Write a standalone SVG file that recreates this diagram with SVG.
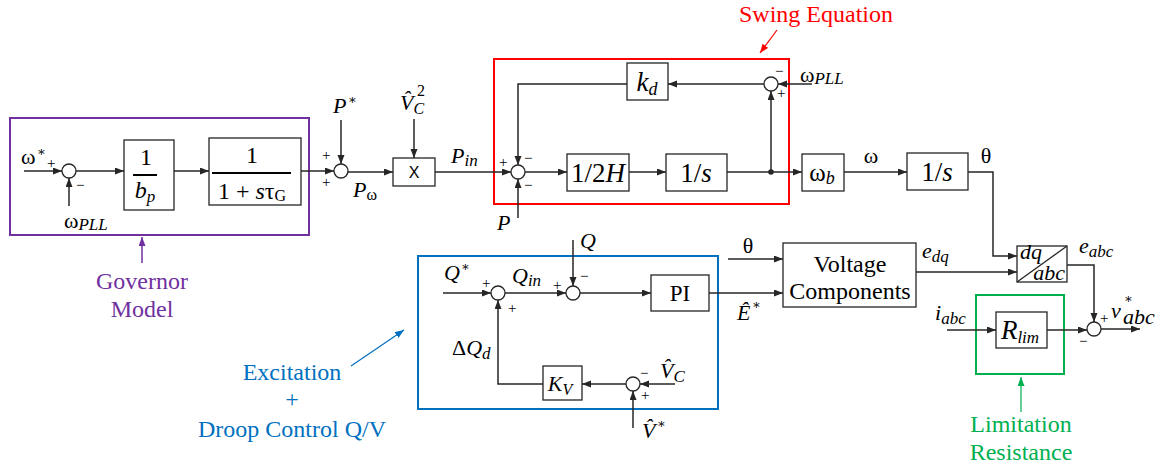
<svg xmlns="http://www.w3.org/2000/svg" width="1156" height="470" viewBox="0 0 1156 470">
<style>
.bg{fill:#fff}
.blk{fill:#fff;stroke:#262626;stroke-width:1.3}
.sum{fill:#fff;stroke:#262626;stroke-width:1.3}
.ln{fill:none;stroke:#262626;stroke-width:1.5}
.lna{fill:none;stroke:#262626;stroke-width:1.5;marker-end:url(#ah)}
.t{font-family:"Liberation Serif","Times New Roman",serif;fill:#000}
.m{font-family:"Liberation Serif","Times New Roman",serif;font-style:italic;fill:#000;font-size:22px}
.up{font-style:normal}
.st{font-family:"DejaVu Serif",serif;font-style:normal;fill:#000}
.sg{font-family:"Liberation Serif",serif;font-size:15px;fill:#000}
.bt{font-family:"Liberation Serif",serif;font-size:27px;fill:#000}
.lbl{font-family:"Liberation Serif","Times New Roman",serif;font-size:24px}
</style>
<defs>
<marker id="ah" markerUnits="userSpaceOnUse" markerWidth="10" markerHeight="8" refX="9" refY="3.5" orient="auto"><path d="M0,0 L9,3.5 L0,7 z" fill="#262626"/></marker>
<marker id="ahr" markerUnits="userSpaceOnUse" markerWidth="10" markerHeight="8" refX="9" refY="3.5" orient="auto"><path d="M0,0 L9,3.5 L0,7 z" fill="#FF0000"/></marker>
<marker id="ahp" markerUnits="userSpaceOnUse" markerWidth="10" markerHeight="8" refX="9" refY="3.5" orient="auto"><path d="M0,0 L9,3.5 L0,7 z" fill="#7030A0"/></marker>
<marker id="ahb" markerUnits="userSpaceOnUse" markerWidth="10" markerHeight="8" refX="9" refY="3.5" orient="auto"><path d="M0,0 L9,3.5 L0,7 z" fill="#0070C0"/></marker>
<marker id="ahg" markerUnits="userSpaceOnUse" markerWidth="10" markerHeight="8" refX="9" refY="3.5" orient="auto"><path d="M0,0 L9,3.5 L0,7 z" fill="#00B050"/></marker>
</defs>
<rect class="bg" x="0" y="0" width="1156" height="470"/>

<g id="governor-region">
<rect x="10" y="118" width="299" height="117" fill="none" stroke="#7030A0" stroke-width="2"/>
<text class="lbl" x="142" y="289" text-anchor="middle" fill="#7030A0">Governor</text>
<text class="lbl" x="142" y="317" text-anchor="middle" fill="#7030A0">Model</text>
</g>
<g id="swing-region">
<rect x="494" y="59" width="295" height="145" fill="none" stroke="#FF0000" stroke-width="2"/>
<text class="lbl" x="816" y="22" text-anchor="middle" fill="#FF0000">Swing Equation</text>
</g>
<g id="excitation-region">
<rect x="418" y="256" width="300" height="153" fill="none" stroke="#0070C0" stroke-width="2"/>
<text class="lbl" x="292" y="380" text-anchor="middle" fill="#0070C0">Excitation</text>
<text class="lbl" x="292" y="407" text-anchor="middle" fill="#0070C0">+</text>
<text class="lbl" x="292" y="437" text-anchor="middle" fill="#0070C0">Droop Control Q/V</text>
</g>
<g id="limitation-region">
<rect x="976" y="295" width="88" height="79" fill="none" stroke="#00B050" stroke-width="2"/>
<text class="lbl" x="1021" y="432" text-anchor="middle" fill="#00B050">Limitation</text>
<text class="lbl" x="1021" y="460" text-anchor="middle" fill="#00B050">Resistance</text>
</g>

<g id="connectors">
<line class="lna" x1="24" y1="171" x2="62" y2="171"/>
<line class="lna" x1="69" y1="206" x2="69" y2="178"/>
<line class="lna" x1="76" y1="171" x2="124" y2="171"/>
<line class="lna" x1="174" y1="171" x2="209" y2="171"/>
<line class="lna" x1="301" y1="171" x2="334" y2="171"/>
<line class="lna" x1="341" y1="120" x2="341" y2="164"/>
<line class="lna" x1="348" y1="172" x2="393" y2="172"/>
<line class="lna" x1="414" y1="119" x2="414" y2="158"/>
<line class="lna" x1="435" y1="172" x2="511" y2="172"/>
<line class="lna" x1="518" y1="218" x2="518" y2="179"/>
<polyline class="lna" points="627,84 518,84 518,165"/>
<line class="lna" x1="764" y1="84" x2="668" y2="84"/>
<line class="lna" x1="812" y1="84" x2="778" y2="84"/>
<line class="lna" x1="771" y1="172" x2="771" y2="91"/>
<line class="lna" x1="525" y1="172" x2="567" y2="172"/>
<line class="lna" x1="629" y1="172" x2="666" y2="172"/>
<line class="lna" x1="727" y1="172" x2="802" y2="172"/>
<circle cx="771" cy="172" r="2.8" fill="#262626"/>
<line class="lna" x1="844" y1="172" x2="907" y2="172"/>
<polyline class="lna" points="968,172 993,172 993,256 1017,256"/>
<line class="lna" x1="916" y1="272" x2="1017" y2="272"/>
<polyline class="lna" points="1067,265 1094,265 1094,322"/>
<line class="lna" x1="1101" y1="329" x2="1140" y2="329"/>
<line class="lna" x1="947" y1="330" x2="996" y2="330"/>
<line class="lna" x1="1047" y1="330" x2="1087" y2="330"/>
<line class="lna" x1="728" y1="259" x2="783" y2="259"/>
<line class="lna" x1="709" y1="293" x2="783" y2="293"/>
<line class="lna" x1="443" y1="293" x2="491" y2="293"/>
<line class="lna" x1="505" y1="293" x2="566" y2="293"/>
<line class="lna" x1="573" y1="240" x2="573" y2="286"/>
<line class="lna" x1="580" y1="293" x2="651" y2="293"/>
<line class="lna" x1="626" y1="384" x2="582" y2="384"/>
<polyline class="lna" points="543,384 498,384 498,300"/>
<line class="lna" x1="675" y1="384" x2="640" y2="384"/>
<line class="lna" x1="633" y1="428" x2="633" y2="391"/>
<line x1="777" y1="30" x2="760" y2="53" stroke="#FF0000" stroke-width="1.2" marker-end="url(#ahr)"/>
<line x1="142" y1="263" x2="142" y2="237" stroke="#7030A0" stroke-width="1.5" marker-end="url(#ahp)"/>
<line x1="351" y1="366" x2="404" y2="330" stroke="#0070C0" stroke-width="1.2" marker-end="url(#ahb)"/>
<line x1="1021" y1="412" x2="1021" y2="377" stroke="#00B050" stroke-width="1.2" marker-end="url(#ahg)"/>
</g>

<g id="sum-omega">
<circle class="sum" cx="69" cy="171" r="7"/>
<text class="t" x="21" y="164" font-size="22">ω</text>
<text class="st" x="37" y="156" font-size="13">∗</text>
<text class="sg" x="47" y="168">+</text>
<text class="sg" x="76" y="190">−</text>
<text class="t" x="64" y="228" font-size="22">ω<tspan font-style="italic" font-size="17" dy="2">PLL</tspan></text>
</g>
<g id="block-bp">
<rect class="blk" x="124" y="140" width="50" height="70"/>
<text class="t" x="146" y="165" font-size="24" text-anchor="middle">1</text>
<line x1="133" y1="175" x2="157" y2="175" stroke="#000" stroke-width="2"/>
<text class="t" x="145" y="198" font-size="24" text-anchor="middle" font-style="italic">b<tspan font-size="17" dy="4">p</tspan></text>
</g>
<g id="block-tau">
<rect class="blk" x="209" y="138" width="92" height="67"/>
<text class="t" x="252" y="163" font-size="24" text-anchor="middle">1</text>
<line x1="212" y1="173" x2="291" y2="173" stroke="#000" stroke-width="2"/>
<text class="t" x="252" y="199" font-size="24" text-anchor="middle">1 + <tspan font-style="italic">s</tspan>τ<tspan font-size="16" dy="2">G</tspan></text>
</g>
<g id="sum-p">
<circle class="sum" cx="341" cy="171" r="7"/>
<text class="m" x="333" y="113">P</text>
<text class="st" x="348" y="104" font-size="13">∗</text>
<text class="sg" x="322" y="160">+</text>
<text class="sg" x="322" y="187">+</text>
<text class="m" x="353" y="197">P<tspan font-size="16" dy="3" class="up">ω</tspan></text>
</g>
<g id="block-mult">
<rect class="blk" x="393" y="158" width="42" height="28"/>
<text x="414" y="178" font-family="Liberation Sans, Arial, sans-serif" font-size="16" text-anchor="middle">X</text>
<text class="m" x="400" y="110">V̂<tspan font-size="16" dy="4">C</tspan></text>
<text class="t" x="417" y="96" font-size="16">2</text>
<text class="m" x="451" y="163">P<tspan font-size="17" dy="3">in</tspan></text>
</g>

<g id="sum-swing">
<circle class="sum" cx="518" cy="172" r="7"/>
<text class="sg" x="499" y="167">+</text>
<text class="sg" x="524" y="163">−</text>
<text class="sg" x="524" y="190">−</text>
<text class="m" x="497" y="230">P</text>
</g>
<g id="block-kd">
<rect class="blk" x="627" y="63" width="41" height="37"/>
<text class="bt" x="647" y="91" text-anchor="middle" font-style="italic">k<tspan font-size="18" dy="4">d</tspan></text>
</g>
<g id="sum-pll">
<circle class="sum" cx="771" cy="84" r="7"/>
<text class="sg" x="775" y="76">−</text>
<text class="sg" x="777" y="98">+</text>
<text class="t" x="800" y="82" font-size="22">ω<tspan font-style="italic" font-size="17" dy="2">PLL</tspan></text>
</g>
<g id="block-2h">
<rect class="blk" x="567" y="154" width="62" height="37"/>
<text class="bt" x="598" y="182" text-anchor="middle">1/2<tspan font-style="italic">H</tspan></text>
</g>
<g id="block-int1">
<rect class="blk" x="666" y="154" width="61" height="37"/>
<text class="bt" x="696" y="182" text-anchor="middle">1/<tspan font-style="italic">s</tspan></text>
</g>
<g id="block-wb">
<rect class="blk" x="802" y="154" width="42" height="37"/>
<text class="t" x="822" y="181" font-size="25" text-anchor="middle">ω<tspan font-style="italic" font-size="18" dy="3">b</tspan></text>
<text class="t" x="871" y="163" font-size="22" text-anchor="middle">ω</text>
</g>
<g id="block-int2">
<rect class="blk" x="907" y="153" width="61" height="37"/>
<text class="bt" x="937" y="181" text-anchor="middle">1/<tspan font-style="italic">s</tspan></text>
<text class="t" x="986" y="163" font-size="22" text-anchor="middle">θ</text>
</g>
<g id="block-dqabc">
<rect class="blk" x="1017" y="246" width="50" height="36"/>
<line x1="1017" y1="282" x2="1067" y2="246" stroke="#262626" stroke-width="1.3"/>
<text class="m" x="1020" y="259" font-size="13">dq</text>
<text class="m" x="1065" y="280" font-size="13" text-anchor="end">abc</text>
<text class="m" x="1079" y="253">e<tspan font-size="17" dy="4">abc</tspan></text>
<text class="m" x="922" y="258">e<tspan font-size="17" dy="4">dq</tspan></text>
</g>
<g id="sum-out">
<circle class="sum" cx="1094" cy="329" r="7"/>
<text class="sg" x="1100" y="323">+</text>
<text class="sg" x="1079" y="346">−</text>
<text class="m" x="1111" y="318">v</text>
<text class="st" x="1124" y="303" font-size="13">∗</text>
<text class="m" x="1123" y="324" font-size="17">abc</text>
</g>
<g id="block-rlim">
<rect class="blk" x="996" y="312" width="51" height="36"/>
<text class="bt" x="1020" y="339" text-anchor="middle" font-style="italic" font-size="25">R<tspan font-size="17" dy="4">lim</tspan></text>
<text class="m" x="935" y="320">i<tspan font-size="17" dy="4">abc</tspan></text>
</g>
<g id="block-voltage">
<rect class="blk" x="783" y="243" width="133" height="64"/>
<text class="lbl" x="850" y="272" text-anchor="middle">Voltage</text>
<text class="lbl" x="850" y="299" text-anchor="middle">Components</text>
<text class="t" x="748" y="253" font-size="22" text-anchor="middle">θ</text>
<text class="m" x="737" y="320">Ê</text>
<text class="st" x="752" y="309" font-size="13">∗</text>
</g>

<g id="sum-q1">
<circle class="sum" cx="498" cy="293" r="7"/>
<text class="m" x="444" y="280">Q</text>
<text class="st" x="461" y="271" font-size="13">∗</text>
<text class="sg" x="482" y="288">+</text>
<text class="sg" x="508" y="313">+</text>
<text class="m" x="512" y="283">Q<tspan font-size="17" dy="3">in</tspan></text>
<text class="m" x="452" y="355"><tspan class="up">Δ</tspan>Q<tspan font-size="17" dy="4">d</tspan></text>
</g>
<g id="sum-q2">
<circle class="sum" cx="573" cy="293" r="7"/>
<text class="m" x="580" y="248">Q</text>
<text class="sg" x="553" y="290">+</text>
<text class="sg" x="580" y="281">−</text>
</g>
<g id="block-pi">
<rect class="blk" x="651" y="275" width="58" height="36"/>
<text class="t" x="680" y="301" font-size="23" text-anchor="middle">PI</text>
</g>
<g id="block-kv">
<rect class="blk" x="543" y="366" width="39" height="34"/>
<text class="m" x="560" y="391" font-size="23" text-anchor="middle">K<tspan font-size="16" dy="4">V</tspan></text>
</g>
<g id="sum-v">
<circle class="sum" cx="633" cy="384" r="7"/>
<text class="sg" x="640" y="378">−</text>
<text class="sg" x="641" y="400">+</text>
<text class="m" x="660" y="378">V̂<tspan font-size="17" dy="4">C</tspan></text>
<text class="m" x="642" y="438">V̂</text>
<text class="st" x="657" y="428" font-size="13">∗</text>
</g>
</svg>
